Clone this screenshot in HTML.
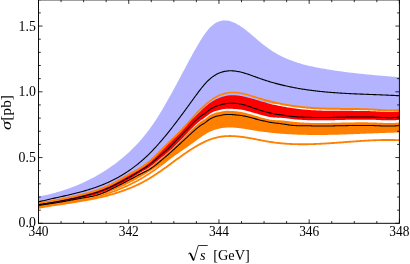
<!DOCTYPE html>
<html><head><meta charset="utf-8"><title>plot</title>
<style>
html,body{margin:0;padding:0;background:#fff;}
body{width:410px;height:264px;overflow:hidden;font-family:"Liberation Serif",serif;}
svg{display:block;will-change:transform;}
.t{font-family:"Liberation Serif",serif;font-size:14.9px;fill:#000;}
.l{font-family:"Liberation Serif",serif;font-size:14.5px;fill:#000;}
</style></head><body>
<svg width="410" height="264" viewBox="0 0 410 264">
<rect width="410" height="264" fill="#fff"/>
<defs><clipPath id="c"><rect x="38.5" y="-0.1" width="360.9" height="223.4"/></clipPath></defs>
<g clip-path="url(#c)">
<path d="M38.5,196.60 L39.5,196.40 L40.5,196.20 L41.5,195.99 L42.5,195.78 L43.5,195.57 L44.5,195.35 L45.5,195.13 L46.5,194.90 L47.5,194.67 L48.5,194.43 L49.5,194.19 L50.5,193.94 L51.5,193.69 L52.5,193.43 L53.5,193.17 L54.5,192.90 L55.5,192.63 L56.5,192.35 L57.5,192.07 L58.5,191.78 L59.5,191.48 L60.5,191.18 L61.5,190.88 L62.5,190.56 L63.5,190.24 L64.5,189.92 L65.5,189.59 L66.5,189.25 L67.5,188.91 L68.5,188.56 L69.5,188.20 L70.5,187.84 L71.5,187.47 L72.5,187.09 L73.5,186.71 L74.5,186.32 L75.5,185.92 L76.5,185.52 L77.5,185.11 L78.5,184.69 L79.5,184.26 L80.5,183.83 L81.5,183.39 L82.5,182.94 L83.5,182.49 L84.5,182.02 L85.5,181.55 L86.5,181.07 L87.5,180.59 L88.5,180.09 L89.5,179.59 L90.5,179.08 L91.5,178.56 L92.5,178.03 L93.5,177.50 L94.5,176.95 L95.5,176.40 L96.5,175.84 L97.5,175.27 L98.5,174.69 L99.5,174.10 L100.5,173.50 L101.5,172.90 L102.5,172.28 L103.5,171.66 L104.5,171.02 L105.5,170.38 L106.5,169.73 L107.5,169.07 L108.5,168.39 L109.5,167.71 L110.5,167.02 L111.5,166.32 L112.5,165.61 L113.5,164.89 L114.5,164.16 L115.5,163.42 L116.5,162.67 L117.5,161.90 L118.5,161.13 L119.5,160.34 L120.5,159.55 L121.5,158.74 L122.5,157.91 L123.5,157.08 L124.5,156.23 L125.5,155.36 L126.5,154.48 L127.5,153.59 L128.5,152.68 L129.5,151.75 L130.5,150.81 L131.5,149.84 L132.5,148.87 L133.5,147.87 L134.5,146.86 L135.5,145.82 L136.5,144.77 L137.5,143.70 L138.5,142.61 L139.5,141.49 L140.5,140.36 L141.5,139.21 L142.5,138.03 L143.5,136.83 L144.5,135.61 L145.5,134.36 L146.5,133.09 L147.5,131.80 L148.5,130.48 L149.5,129.14 L150.5,127.77 L151.5,126.37 L152.5,124.94 L153.5,123.49 L154.5,122.01 L155.5,120.50 L156.5,118.96 L157.5,117.40 L158.5,115.82 L159.5,114.21 L160.5,112.58 L161.5,110.93 L162.5,109.25 L163.5,107.56 L164.5,105.85 L165.5,104.12 L166.5,102.37 L167.5,100.61 L168.5,98.84 L169.5,97.05 L170.5,95.24 L171.5,93.43 L172.5,91.60 L173.5,89.77 L174.5,87.92 L175.5,86.07 L176.5,84.21 L177.5,82.35 L178.5,80.48 L179.5,78.60 L180.5,76.73 L181.5,74.85 L182.5,72.97 L183.5,71.09 L184.5,69.21 L185.5,67.33 L186.5,65.46 L187.5,63.59 L188.5,61.73 L189.5,59.87 L190.5,58.02 L191.5,56.18 L192.5,54.35 L193.5,52.53 L194.5,50.74 L195.5,48.96 L196.5,47.21 L197.5,45.49 L198.5,43.79 L199.5,42.13 L200.5,40.51 L201.5,38.92 L202.5,37.37 L203.5,35.87 L204.5,34.42 L205.5,33.03 L206.5,31.70 L207.5,30.43 L208.5,29.24 L209.5,28.12 L210.5,27.09 L211.5,26.13 L212.5,25.26 L213.5,24.47 L214.5,23.75 L215.5,23.12 L216.5,22.55 L217.5,22.06 L218.5,21.63 L219.5,21.28 L220.5,20.99 L221.5,20.76 L222.5,20.60 L223.5,20.49 L224.5,20.45 L225.5,20.46 L226.5,20.53 L227.5,20.65 L228.5,20.83 L229.5,21.05 L230.5,21.32 L231.5,21.64 L232.5,22.00 L233.5,22.40 L234.5,22.84 L235.5,23.32 L236.5,23.84 L237.5,24.39 L238.5,24.97 L239.5,25.59 L240.5,26.23 L241.5,26.90 L242.5,27.60 L243.5,28.32 L244.5,29.06 L245.5,29.82 L246.5,30.60 L247.5,31.39 L248.5,32.20 L249.5,33.02 L250.5,33.85 L251.5,34.69 L252.5,35.54 L253.5,36.39 L254.5,37.25 L255.5,38.10 L256.5,38.96 L257.5,39.81 L258.5,40.66 L259.5,41.50 L260.5,42.33 L261.5,43.16 L262.5,43.97 L263.5,44.77 L264.5,45.55 L265.5,46.31 L266.5,47.06 L267.5,47.79 L268.5,48.50 L269.5,49.19 L270.5,49.87 L271.5,50.53 L272.5,51.17 L273.5,51.80 L274.5,52.41 L275.5,53.00 L276.5,53.58 L277.5,54.14 L278.5,54.69 L279.5,55.23 L280.5,55.75 L281.5,56.26 L282.5,56.75 L283.5,57.23 L284.5,57.69 L285.5,58.15 L286.5,58.59 L287.5,59.02 L288.5,59.43 L289.5,59.84 L290.5,60.23 L291.5,60.61 L292.5,60.99 L293.5,61.35 L294.5,61.70 L295.5,62.04 L296.5,62.37 L297.5,62.69 L298.5,63.00 L299.5,63.31 L300.5,63.60 L301.5,63.89 L302.5,64.17 L303.5,64.44 L304.5,64.70 L305.5,64.96 L306.5,65.21 L307.5,65.46 L308.5,65.69 L309.5,65.92 L310.5,66.15 L311.5,66.37 L312.5,66.59 L313.5,66.80 L314.5,67.00 L315.5,67.20 L316.5,67.40 L317.5,67.60 L318.5,67.79 L319.5,67.97 L320.5,68.16 L321.5,68.34 L322.5,68.52 L323.5,68.70 L324.5,68.87 L325.5,69.04 L326.5,69.21 L327.5,69.38 L328.5,69.55 L329.5,69.71 L330.5,69.87 L331.5,70.03 L332.5,70.18 L333.5,70.34 L334.5,70.49 L335.5,70.64 L336.5,70.78 L337.5,70.93 L338.5,71.07 L339.5,71.21 L340.5,71.35 L341.5,71.49 L342.5,71.62 L343.5,71.75 L344.5,71.89 L345.5,72.01 L346.5,72.14 L347.5,72.27 L348.5,72.39 L349.5,72.51 L350.5,72.64 L351.5,72.75 L352.5,72.87 L353.5,72.99 L354.5,73.10 L355.5,73.22 L356.5,73.33 L357.5,73.44 L358.5,73.55 L359.5,73.66 L360.5,73.76 L361.5,73.87 L362.5,73.97 L363.5,74.07 L364.5,74.18 L365.5,74.28 L366.5,74.38 L367.5,74.47 L368.5,74.57 L369.5,74.67 L370.5,74.76 L371.5,74.86 L372.5,74.95 L373.5,75.05 L374.5,75.14 L375.5,75.23 L376.5,75.32 L377.5,75.41 L378.5,75.50 L379.5,75.59 L380.5,75.68 L381.5,75.76 L382.5,75.85 L383.5,75.94 L384.5,76.02 L385.5,76.11 L386.5,76.19 L387.5,76.28 L388.5,76.36 L389.5,76.45 L390.5,76.53 L391.5,76.62 L392.5,76.70 L393.5,76.78 L394.5,76.87 L395.5,76.95 L396.5,77.03 L397.5,77.12 L399.4,77.28 L399.4,110.10 L397.5,110.29 L396.5,110.36 L395.5,110.42 L394.5,110.46 L393.5,110.49 L392.5,110.51 L391.5,110.52 L390.5,110.51 L389.5,110.50 L388.5,110.47 L387.5,110.44 L386.5,110.40 L385.5,110.36 L384.5,110.31 L383.5,110.25 L382.5,110.19 L381.5,110.13 L380.5,110.06 L379.5,110.00 L378.5,109.93 L377.5,109.86 L376.5,109.80 L375.5,109.74 L374.5,109.68 L373.5,109.62 L372.5,109.57 L371.5,109.51 L370.5,109.47 L369.5,109.42 L368.5,109.38 L367.5,109.34 L366.5,109.30 L365.5,109.27 L364.5,109.24 L363.5,109.21 L362.5,109.18 L361.5,109.15 L360.5,109.13 L359.5,109.11 L358.5,109.09 L357.5,109.07 L356.5,109.05 L355.5,109.04 L354.5,109.02 L353.5,109.01 L352.5,109.00 L351.5,108.98 L350.5,108.97 L349.5,108.96 L348.5,108.95 L347.5,108.94 L346.5,108.93 L345.5,108.92 L344.5,108.92 L343.5,108.91 L342.5,108.90 L341.5,108.89 L340.5,108.88 L339.5,108.87 L338.5,108.86 L337.5,108.85 L336.5,108.83 L335.5,108.82 L334.5,108.81 L333.5,108.79 L332.5,108.78 L331.5,108.76 L330.5,108.74 L329.5,108.72 L328.5,108.70 L327.5,108.67 L326.5,108.64 L325.5,108.62 L324.5,108.59 L323.5,108.55 L322.5,108.52 L321.5,108.48 L320.5,108.44 L319.5,108.40 L318.5,108.35 L317.5,108.30 L316.5,108.25 L315.5,108.20 L314.5,108.14 L313.5,108.08 L312.5,108.01 L311.5,107.94 L310.5,107.87 L309.5,107.80 L308.5,107.72 L307.5,107.63 L306.5,107.55 L305.5,107.45 L304.5,107.36 L303.5,107.26 L302.5,107.15 L301.5,107.05 L300.5,106.94 L299.5,106.82 L298.5,106.70 L297.5,106.57 L296.5,106.45 L295.5,106.31 L294.5,106.18 L293.5,106.03 L292.5,105.89 L291.5,105.74 L290.5,105.58 L289.5,105.42 L288.5,105.26 L287.5,105.09 L286.5,104.92 L285.5,104.74 L284.5,104.56 L283.5,104.38 L282.5,104.18 L281.5,104.08 L280.5,104.08 L279.5,104.06 L278.5,104.05 L277.5,104.03 L276.5,104.00 L275.5,103.98 L274.5,103.94 L273.5,103.91 L272.5,103.87 L271.5,103.82 L270.5,103.77 L269.5,103.71 L268.5,103.64 L267.5,103.58 L266.5,103.50 L265.5,103.42 L264.5,103.34 L263.5,103.25 L262.5,103.16 L261.5,102.96 L260.5,102.66 L259.5,102.36 L258.5,102.05 L257.5,101.75 L256.5,101.45 L255.5,101.15 L254.5,100.85 L253.5,100.55 L252.5,100.26 L251.5,99.97 L250.5,99.69 L249.5,99.41 L248.5,99.14 L247.5,98.89 L246.5,98.65 L245.5,98.42 L244.5,98.20 L243.5,97.99 L242.5,97.79 L241.5,97.61 L240.5,97.43 L239.5,97.27 L238.5,97.12 L237.5,97.00 L236.5,96.89 L235.5,96.81 L234.5,96.75 L233.5,96.71 L232.5,96.71 L231.5,96.72 L230.5,96.77 L229.5,96.85 L228.5,96.96 L227.5,97.10 L226.5,97.27 L225.5,97.48 L224.5,97.71 L223.5,97.97 L222.5,98.26 L221.5,98.57 L220.5,98.92 L219.5,99.29 L218.5,99.70 L217.5,100.14 L216.5,100.60 L215.5,101.11 L214.5,101.64 L213.5,102.21 L212.5,102.82 L211.5,103.47 L210.5,104.15 L209.5,104.87 L208.5,105.62 L207.5,106.41 L206.5,107.24 L205.5,108.09 L204.5,108.97 L203.5,109.87 L202.5,110.80 L201.5,111.75 L200.5,112.72 L199.5,113.70 L198.5,114.68 L197.5,115.68 L196.5,116.68 L195.5,117.68 L194.5,118.68 L193.5,119.60 L192.5,120.48 L191.5,121.35 L190.5,122.24 L189.5,123.18 L188.5,124.21 L187.5,125.33 L186.5,126.47 L185.5,127.61 L184.5,128.73 L183.5,129.85 L182.5,130.94 L181.5,132.02 L180.5,133.08 L179.5,134.11 L178.5,135.11 L177.5,136.09 L176.5,137.06 L175.5,138.02 L174.5,138.96 L173.5,139.90 L172.5,140.85 L171.5,141.80 L170.5,142.75 L169.5,143.72 L168.5,144.70 L167.5,145.70 L166.5,146.71 L165.5,147.72 L164.5,148.74 L163.5,149.76 L162.5,150.78 L161.5,151.81 L160.5,152.83 L159.5,153.84 L158.5,154.85 L157.5,155.85 L156.5,156.84 L155.5,157.82 L154.5,158.78 L153.5,159.72 L152.5,160.64 L151.5,161.55 L150.5,162.42 L149.5,163.28 L148.5,164.10 L147.5,164.90 L146.5,165.68 L145.5,166.43 L144.5,167.16 L143.5,167.87 L142.5,168.55 L141.5,169.22 L140.5,169.87 L139.5,170.49 L138.5,171.11 L137.5,171.70 L136.5,172.28 L135.5,172.84 L134.5,173.39 L133.5,173.93 L132.5,174.46 L131.5,175.00 L130.5,175.53 L129.5,176.08 L128.5,176.63 L127.5,177.20 L126.5,177.77 L125.5,178.34 L124.5,178.92 L123.5,179.51 L122.5,180.09 L121.5,180.67 L120.5,181.25 L119.5,181.83 L118.5,182.40 L117.5,182.96 L116.5,183.52 L115.5,184.06 L114.5,184.59 L113.5,185.11 L112.5,185.61 L111.5,186.11 L110.5,186.59 L109.5,187.06 L108.5,187.52 L107.5,187.96 L106.5,188.40 L105.5,188.82 L104.5,189.24 L103.5,189.64 L102.5,190.04 L101.5,190.43 L100.5,190.80 L99.5,191.17 L98.5,191.53 L97.5,191.88 L96.5,192.22 L95.5,192.56 L94.5,192.88 L93.5,193.20 L92.5,193.51 L91.5,193.82 L90.5,194.12 L89.5,194.41 L88.5,194.70 L87.5,194.98 L86.5,195.26 L85.5,195.53 L84.5,195.80 L83.5,196.06 L82.5,196.31 L81.5,196.57 L80.5,196.82 L79.5,197.07 L78.5,197.31 L77.5,197.54 L76.5,197.77 L75.5,197.99 L74.5,198.22 L73.5,198.43 L72.5,198.65 L71.5,198.87 L70.5,199.08 L69.5,199.29 L68.5,199.49 L67.5,199.70 L66.5,199.90 L65.5,200.10 L64.5,200.30 L63.5,200.49 L62.5,200.68 L61.5,200.87 L60.5,201.06 L59.5,201.24 L58.5,201.43 L57.5,201.61 L56.5,201.78 L55.5,201.96 L54.5,202.13 L53.5,202.30 L52.5,202.47 L51.5,202.63 L50.5,202.80 L49.5,202.96 L48.5,203.12 L47.5,203.28 L46.5,203.43 L45.5,203.59 L44.5,203.74 L43.5,203.89 L42.5,204.03 L41.5,204.18 L40.5,204.32 L39.5,204.46 L38.5,204.60 Z" fill="#b3b3ff"/>
<path d="M38.5,201.91 L39.5,201.65 L40.5,201.40 L41.5,201.15 L42.5,200.90 L43.5,200.66 L44.5,200.42 L45.5,200.18 L46.5,199.94 L47.5,199.71 L48.5,199.48 L49.5,199.25 L50.5,199.02 L51.5,198.79 L52.5,198.57 L53.5,198.34 L54.5,198.12 L55.5,197.90 L56.5,197.67 L57.5,197.45 L58.5,197.23 L59.5,197.01 L60.5,196.79 L61.5,196.56 L62.5,196.34 L63.5,196.12 L64.5,195.89 L65.5,195.66 L66.5,195.44 L67.5,195.21 L68.5,194.98 L69.5,194.74 L70.5,194.51 L71.5,194.27 L72.5,194.03 L73.5,193.79 L74.5,193.54 L75.5,193.29 L76.5,193.04 L77.5,192.79 L78.5,192.53 L79.5,192.27 L80.5,192.00 L81.5,191.73 L82.5,191.46 L83.5,191.18 L84.5,190.89 L85.5,190.61 L86.5,190.31 L87.5,190.01 L88.5,189.71 L89.5,189.40 L90.5,189.08 L91.5,188.76 L92.5,188.43 L93.5,188.10 L94.5,187.76 L95.5,187.41 L96.5,187.06 L97.5,186.70 L98.5,186.33 L99.5,185.95 L100.5,185.57 L101.5,185.18 L102.5,184.78 L103.5,184.37 L104.5,183.95 L105.5,183.53 L106.5,183.10 L107.5,182.65 L108.5,182.20 L109.5,181.74 L110.5,181.27 L111.5,180.79 L112.5,180.30 L113.5,179.80 L114.5,179.29 L115.5,178.77 L116.5,178.24 L117.5,177.70 L118.5,177.15 L119.5,176.59 L120.5,176.01 L121.5,175.42 L122.5,174.83 L123.5,174.22 L124.5,173.59 L125.5,172.96 L126.5,172.31 L127.5,171.65 L128.5,170.98 L129.5,170.30 L130.5,169.60 L131.5,168.89 L132.5,168.16 L133.5,167.42 L134.5,166.67 L135.5,165.90 L136.5,165.12 L137.5,164.33 L138.5,163.52 L139.5,162.69 L140.5,161.85 L141.5,161.00 L142.5,160.13 L143.5,159.24 L144.5,158.34 L145.5,157.42 L146.5,156.49 L147.5,155.54 L148.5,154.57 L149.5,153.59 L150.5,152.59 L151.5,151.57 L152.5,150.54 L153.5,149.49 L154.5,148.42 L155.5,147.34 L156.5,146.25 L157.5,145.14 L158.5,144.01 L159.5,142.88 L160.5,141.73 L161.5,140.56 L162.5,139.39 L163.5,138.20 L164.5,137.00 L165.5,135.79 L166.5,134.57 L167.5,133.33 L168.5,132.09 L169.5,130.84 L170.5,129.57 L171.5,128.30 L172.5,127.02 L173.5,125.73 L174.5,124.44 L175.5,123.13 L176.5,121.82 L177.5,120.50 L178.5,119.18 L179.5,117.84 L180.5,116.51 L181.5,115.17 L182.5,113.82 L183.5,112.47 L184.5,111.11 L185.5,109.75 L186.5,108.39 L187.5,107.03 L188.5,105.66 L189.5,104.29 L190.5,102.91 L191.5,101.54 L192.5,100.17 L193.5,98.79 L194.5,97.41 L195.5,96.04 L196.5,94.66 L197.5,93.30 L198.5,91.95 L199.5,90.61 L200.5,89.30 L201.5,88.02 L202.5,86.78 L203.5,85.57 L204.5,84.40 L205.5,83.29 L206.5,82.22 L207.5,81.21 L208.5,80.25 L209.5,79.34 L210.5,78.48 L211.5,77.67 L212.5,76.91 L213.5,76.20 L214.5,75.53 L215.5,74.92 L216.5,74.35 L217.5,73.84 L218.5,73.36 L219.5,72.93 L220.5,72.55 L221.5,72.21 L222.5,71.90 L223.5,71.64 L224.5,71.41 L225.5,71.23 L226.5,71.08 L227.5,70.96 L228.5,70.87 L229.5,70.82 L230.5,70.80 L231.5,70.81 L232.5,70.85 L233.5,70.92 L234.5,71.01 L235.5,71.13 L236.5,71.27 L237.5,71.43 L238.5,71.62 L239.5,71.82 L240.5,72.05 L241.5,72.29 L242.5,72.55 L243.5,72.83 L244.5,73.11 L245.5,73.42 L246.5,73.73 L247.5,74.06 L248.5,74.39 L249.5,74.73 L250.5,75.08 L251.5,75.44 L252.5,75.80 L253.5,76.16 L254.5,76.52 L255.5,76.89 L256.5,77.26 L257.5,77.62 L258.5,77.98 L259.5,78.34 L260.5,78.69 L261.5,79.04 L262.5,79.38 L263.5,79.72 L264.5,80.05 L265.5,80.38 L266.5,80.70 L267.5,81.01 L268.5,81.32 L269.5,81.63 L270.5,81.93 L271.5,82.22 L272.5,82.51 L273.5,82.79 L274.5,83.07 L275.5,83.35 L276.5,83.62 L277.5,83.88 L278.5,84.14 L279.5,84.40 L280.5,84.65 L281.5,84.89 L282.5,85.14 L283.5,85.37 L284.5,85.61 L285.5,85.83 L286.5,86.06 L287.5,86.28 L288.5,86.49 L289.5,86.70 L290.5,86.91 L291.5,87.11 L292.5,87.31 L293.5,87.51 L294.5,87.70 L295.5,87.89 L296.5,88.07 L297.5,88.25 L298.5,88.42 L299.5,88.59 L300.5,88.76 L301.5,88.93 L302.5,89.09 L303.5,89.25 L304.5,89.40 L305.5,89.55 L306.5,89.70 L307.5,89.84 L308.5,89.98 L309.5,90.12 L310.5,90.26 L311.5,90.39 L312.5,90.52 L313.5,90.64 L314.5,90.76 L315.5,90.88 L316.5,91.00 L317.5,91.11 L318.5,91.22 L319.5,91.33 L320.5,91.44 L321.5,91.54 L322.5,91.64 L323.5,91.74 L324.5,91.84 L325.5,91.93 L326.5,92.02 L327.5,92.11 L328.5,92.20 L329.5,92.28 L330.5,92.36 L331.5,92.44 L332.5,92.52 L333.5,92.60 L334.5,92.67 L335.5,92.74 L336.5,92.81 L337.5,92.88 L338.5,92.95 L339.5,93.02 L340.5,93.08 L341.5,93.14 L342.5,93.20 L343.5,93.26 L344.5,93.32 L345.5,93.37 L346.5,93.43 L347.5,93.48 L348.5,93.53 L349.5,93.59 L350.5,93.64 L351.5,93.68 L352.5,93.73 L353.5,93.78 L354.5,93.83 L355.5,93.87 L356.5,93.91 L357.5,93.96 L358.5,94.00 L359.5,94.04 L360.5,94.08 L361.5,94.12 L362.5,94.17 L363.5,94.20 L364.5,94.24 L365.5,94.28 L366.5,94.32 L367.5,94.36 L368.5,94.40 L369.5,94.44 L370.5,94.47 L371.5,94.51 L372.5,94.55 L373.5,94.59 L374.5,94.63 L375.5,94.66 L376.5,94.70 L377.5,94.74 L378.5,94.78 L379.5,94.82 L380.5,94.86 L381.5,94.90 L382.5,94.94 L383.5,94.98 L384.5,95.02 L385.5,95.06 L386.5,95.10 L387.5,95.15 L388.5,95.19 L389.5,95.24 L390.5,95.28 L391.5,95.33 L392.5,95.38 L393.5,95.42 L394.5,95.47 L395.5,95.53 L396.5,95.58 L397.5,95.63 L399.4,95.74" fill="none" stroke="#000" stroke-width="1.1"/>
<path d="M38.5,205.20 L39.5,205.07 L40.5,204.93 L41.5,204.79 L42.5,204.65 L43.5,204.51 L44.5,204.36 L45.5,204.22 L46.5,204.07 L47.5,203.93 L48.5,203.78 L49.5,203.63 L50.5,203.47 L51.5,203.32 L52.5,203.16 L53.5,203.00 L54.5,202.84 L55.5,202.68 L56.5,202.52 L57.5,202.35 L58.5,202.18 L59.5,202.01 L60.5,201.84 L61.5,201.66 L62.5,201.49 L63.5,201.31 L64.5,201.13 L65.5,200.94 L66.5,200.76 L67.5,200.58 L68.5,200.39 L69.5,200.20 L70.5,200.01 L71.5,199.82 L72.5,199.62 L73.5,199.43 L74.5,199.23 L75.5,199.04 L76.5,198.84 L77.5,198.64 L78.5,198.44 L79.5,198.25 L80.5,198.06 L81.5,197.87 L82.5,197.69 L83.5,197.49 L84.5,197.30 L85.5,197.10 L86.5,196.90 L87.5,196.69 L88.5,196.48 L89.5,196.25 L90.5,196.02 L91.5,195.79 L92.5,195.54 L93.5,195.28 L94.5,195.01 L95.5,194.73 L96.5,194.43 L97.5,194.12 L98.5,193.80 L99.5,193.46 L100.5,193.11 L101.5,192.74 L102.5,192.36 L103.5,191.96 L104.5,191.55 L105.5,191.14 L106.5,190.71 L107.5,190.27 L108.5,189.82 L109.5,189.36 L110.5,188.89 L111.5,188.42 L112.5,187.94 L113.5,187.46 L114.5,186.97 L115.5,186.47 L116.5,185.98 L117.5,185.48 L118.5,184.98 L119.5,184.49 L120.5,183.98 L121.5,183.48 L122.5,182.97 L123.5,182.47 L124.5,181.95 L125.5,181.44 L126.5,180.91 L127.5,180.37 L128.5,179.82 L129.5,179.26 L130.5,178.69 L131.5,178.13 L132.5,177.58 L133.5,177.04 L134.5,176.49 L135.5,175.94 L136.5,175.37 L137.5,174.79 L138.5,174.18 L139.5,173.56 L140.5,172.94 L141.5,172.34 L142.5,171.77 L143.5,171.22 L144.5,170.68 L145.5,170.15 L146.5,169.59 L147.5,169.01 L148.5,168.39 L149.5,167.72 L150.5,167.00 L151.5,166.26 L152.5,165.49 L153.5,164.71 L154.5,163.91 L155.5,163.10 L156.5,162.28 L157.5,161.44 L158.5,160.61 L159.5,159.76 L160.5,158.91 L161.5,158.08 L162.5,157.26 L163.5,156.44 L164.5,155.62 L165.5,154.80 L166.5,153.97 L167.5,153.13 L168.5,152.27 L169.5,151.39 L170.5,150.48 L171.5,149.55 L172.5,148.61 L173.5,147.65 L174.5,146.68 L175.5,145.70 L176.5,144.72 L177.5,143.73 L178.5,142.73 L179.5,141.74 L180.5,140.74 L181.5,139.73 L182.5,138.70 L183.5,137.66 L184.5,136.61 L185.5,135.55 L186.5,134.50 L187.5,133.46 L188.5,132.43 L189.5,131.41 L190.5,130.42 L191.5,129.44 L192.5,128.49 L193.5,127.55 L194.5,126.64 L195.5,125.75 L196.5,124.88 L197.5,124.03 L198.5,123.20 L199.5,122.40 L200.5,121.63 L201.5,120.98 L202.5,120.40 L203.5,119.82 L204.5,119.19 L205.5,118.44 L206.5,117.68 L207.5,116.92 L208.5,116.19 L209.5,115.51 L210.5,114.90 L211.5,114.37 L212.5,113.91 L213.5,113.51 L214.5,113.15 L215.5,112.82 L216.5,112.55 L217.5,112.34 L218.5,112.16 L219.5,111.97 L220.5,111.76 L221.5,111.54 L222.5,111.34 L223.5,111.17 L224.5,111.02 L225.5,110.93 L226.5,110.87 L227.5,110.86 L228.5,110.87 L229.5,110.89 L230.5,110.92 L231.5,110.97 L232.5,111.04 L233.5,111.12 L234.5,111.20 L235.5,111.28 L236.5,111.36 L237.5,111.46 L238.5,111.57 L239.5,111.70 L240.5,111.84 L241.5,112.01 L242.5,112.19 L243.5,112.40 L244.5,112.63 L245.5,112.87 L246.5,113.14 L247.5,113.41 L248.5,113.69 L249.5,113.98 L250.5,114.27 L251.5,114.57 L252.5,114.86 L253.5,115.15 L254.5,115.44 L255.5,115.73 L256.5,116.01 L257.5,116.30 L258.5,116.59 L259.5,116.88 L260.5,117.17 L261.5,117.45 L262.5,117.72 L263.5,117.99 L264.5,118.25 L265.5,118.51 L266.5,118.75 L267.5,118.99 L268.5,119.21 L269.5,119.43 L270.5,119.63 L271.5,119.79 L272.5,119.92 L273.5,120.01 L274.5,120.08 L275.5,120.13 L276.5,120.18 L277.5,120.21 L278.5,120.25 L279.5,120.30 L280.5,120.36 L281.5,120.43 L282.5,120.51 L283.5,120.59 L284.5,120.69 L285.5,120.81 L286.5,120.93 L287.5,121.07 L288.5,121.20 L289.5,121.34 L290.5,121.47 L291.5,121.60 L292.5,121.71 L293.5,121.82 L294.5,121.93 L295.5,122.03 L296.5,122.12 L297.5,122.20 L298.5,122.28 L299.5,122.36 L300.5,122.42 L301.5,122.49 L302.5,122.55 L303.5,122.60 L304.5,122.65 L305.5,122.70 L306.5,122.74 L307.5,122.78 L308.5,122.82 L309.5,122.85 L310.5,122.88 L311.5,122.91 L312.5,122.93 L313.5,122.96 L314.5,122.97 L315.5,122.99 L316.5,123.00 L317.5,123.00 L318.5,123.01 L319.5,123.01 L320.5,123.01 L321.5,123.01 L322.5,123.00 L323.5,122.99 L324.5,122.98 L325.5,122.97 L326.5,122.96 L327.5,122.94 L328.5,122.92 L329.5,122.91 L330.5,122.89 L331.5,122.87 L332.5,122.84 L333.5,122.82 L334.5,122.80 L335.5,122.77 L336.5,122.75 L337.5,122.72 L338.5,122.70 L339.5,122.67 L340.5,122.65 L341.5,122.62 L342.5,122.60 L343.5,122.58 L344.5,122.55 L345.5,122.53 L346.5,122.51 L347.5,122.49 L348.5,122.47 L349.5,122.45 L350.5,122.44 L351.5,122.42 L352.5,122.41 L353.5,122.39 L354.5,122.38 L355.5,122.37 L356.5,122.36 L357.5,122.35 L358.5,122.34 L359.5,122.34 L360.5,122.33 L361.5,122.33 L362.5,122.33 L363.5,122.33 L364.5,122.34 L365.5,122.34 L366.5,122.35 L367.5,122.37 L368.5,122.38 L369.5,122.40 L370.5,122.42 L371.5,122.44 L372.5,122.47 L373.5,122.50 L374.5,122.53 L375.5,122.57 L376.5,122.61 L377.5,122.65 L378.5,122.70 L379.5,122.74 L380.5,122.79 L381.5,122.83 L382.5,122.87 L383.5,122.91 L384.5,122.95 L385.5,122.98 L386.5,123.01 L387.5,123.03 L388.5,123.04 L389.5,123.05 L390.5,123.04 L391.5,123.03 L392.5,123.01 L393.5,122.98 L394.5,122.93 L395.5,122.87 L396.5,122.80 L397.5,122.71 L399.4,122.50 L399.4,131.62 L397.5,131.67 L396.5,131.69 L395.5,131.72 L394.5,131.75 L393.5,131.78 L392.5,131.81 L391.5,131.84 L390.5,131.87 L389.5,131.90 L388.5,131.93 L387.5,131.96 L386.5,132.00 L385.5,132.03 L384.5,132.07 L383.5,132.10 L382.5,132.14 L381.5,132.18 L380.5,132.22 L379.5,132.25 L378.5,132.29 L377.5,132.33 L376.5,132.37 L375.5,132.41 L374.5,132.45 L373.5,132.49 L372.5,132.53 L371.5,132.57 L370.5,132.61 L369.5,132.65 L368.5,132.69 L367.5,132.73 L366.5,132.77 L365.5,132.81 L364.5,132.85 L363.5,132.89 L362.5,132.93 L361.5,132.97 L360.5,133.01 L359.5,133.05 L358.5,133.09 L357.5,133.13 L356.5,133.17 L355.5,133.21 L354.5,133.25 L353.5,133.29 L352.5,133.32 L351.5,133.36 L350.5,133.40 L349.5,133.43 L348.5,133.47 L347.5,133.50 L346.5,133.54 L345.5,133.57 L344.5,133.60 L343.5,133.64 L342.5,133.67 L341.5,133.70 L340.5,133.73 L339.5,133.76 L338.5,133.78 L337.5,133.81 L336.5,133.84 L335.5,133.86 L334.5,133.89 L333.5,133.91 L332.5,133.93 L331.5,133.95 L330.5,133.97 L329.5,133.99 L328.5,134.01 L327.5,134.03 L326.5,134.04 L325.5,134.05 L324.5,134.07 L323.5,134.08 L322.5,134.09 L321.5,134.10 L320.5,134.10 L319.5,134.11 L318.5,134.11 L317.5,134.11 L316.5,134.11 L315.5,134.11 L314.5,134.11 L313.5,134.11 L312.5,134.10 L311.5,134.09 L310.5,134.08 L309.5,134.07 L308.5,134.06 L307.5,134.04 L306.5,134.02 L305.5,134.00 L304.5,133.98 L303.5,133.96 L302.5,133.94 L301.5,133.91 L300.5,133.88 L299.5,133.85 L298.5,133.81 L297.5,133.78 L296.5,133.74 L295.5,133.70 L294.5,133.66 L293.5,133.61 L292.5,133.56 L291.5,133.51 L290.5,133.46 L289.5,133.41 L288.5,133.35 L287.5,133.29 L286.5,133.23 L285.5,133.16 L284.5,133.10 L283.5,133.02 L282.5,132.95 L281.5,132.88 L280.5,132.80 L279.5,132.72 L278.5,132.63 L277.5,132.55 L276.5,132.46 L275.5,132.36 L274.5,132.27 L273.5,132.17 L272.5,132.07 L271.5,131.96 L270.5,131.86 L269.5,131.75 L268.5,131.63 L267.5,131.51 L266.5,131.39 L265.5,131.27 L264.5,131.14 L263.5,131.01 L262.5,130.88 L261.5,130.74 L260.5,130.60 L259.5,130.46 L258.5,130.31 L257.5,130.16 L256.5,130.01 L255.5,129.85 L254.5,129.69 L253.5,129.52 L252.5,129.36 L251.5,129.19 L250.5,129.02 L249.5,128.85 L248.5,128.68 L247.5,128.51 L246.5,128.35 L245.5,128.19 L244.5,128.03 L243.5,127.88 L242.5,127.73 L241.5,127.59 L240.5,127.45 L239.5,127.32 L238.5,127.21 L237.5,127.10 L236.5,127.00 L235.5,126.91 L234.5,126.83 L233.5,126.77 L232.5,126.72 L231.5,126.68 L230.5,126.66 L229.5,126.65 L228.5,126.67 L227.5,126.69 L226.5,126.74 L225.5,126.80 L224.5,126.89 L223.5,126.99 L222.5,127.12 L221.5,127.27 L220.5,127.44 L219.5,127.63 L218.5,127.85 L217.5,128.09 L216.5,128.36 L215.5,128.66 L214.5,128.98 L213.5,129.33 L212.5,129.71 L211.5,130.12 L210.5,130.56 L209.5,131.03 L208.5,131.54 L207.5,132.07 L206.5,132.63 L205.5,133.21 L204.5,133.82 L203.5,134.44 L202.5,135.09 L201.5,135.75 L200.5,136.43 L199.5,137.13 L198.5,137.83 L197.5,138.54 L196.5,139.27 L195.5,139.99 L194.5,140.72 L193.5,141.46 L192.5,142.19 L191.5,142.92 L190.5,143.65 L189.5,144.37 L188.5,145.08 L187.5,145.79 L186.5,146.49 L185.5,147.19 L184.5,147.89 L183.5,148.58 L182.5,149.28 L181.5,149.97 L180.5,150.67 L179.5,151.36 L178.5,152.06 L177.5,152.76 L176.5,153.47 L175.5,154.18 L174.5,154.90 L173.5,155.62 L172.5,156.35 L171.5,157.09 L170.5,157.84 L169.5,158.60 L168.5,159.38 L167.5,160.15 L166.5,160.93 L165.5,161.64 L164.5,162.29 L163.5,162.90 L162.5,163.49 L161.5,164.09 L160.5,164.70 L159.5,165.34 L158.5,165.98 L157.5,166.60 L156.5,167.22 L155.5,167.83 L154.5,168.44 L153.5,169.05 L152.5,169.66 L151.5,170.28 L150.5,170.91 L149.5,171.55 L148.5,172.18 L147.5,172.81 L146.5,173.43 L145.5,174.04 L144.5,174.64 L143.5,175.23 L142.5,175.82 L141.5,176.40 L140.5,176.97 L139.5,177.54 L138.5,178.11 L137.5,178.68 L136.5,179.25 L135.5,179.82 L134.5,180.38 L133.5,180.93 L132.5,181.48 L131.5,182.02 L130.5,182.55 L129.5,183.06 L128.5,183.57 L127.5,184.07 L126.5,184.56 L125.5,185.04 L124.5,185.52 L123.5,185.99 L122.5,186.45 L121.5,186.91 L120.5,187.36 L119.5,187.80 L118.5,188.23 L117.5,188.66 L116.5,189.09 L115.5,189.50 L114.5,189.91 L113.5,190.32 L112.5,190.73 L111.5,191.13 L110.5,191.53 L109.5,191.92 L108.5,192.31 L107.5,192.69 L106.5,193.06 L105.5,193.42 L104.5,193.78 L103.5,194.12 L102.5,194.45 L101.5,194.77 L100.5,195.08 L99.5,195.38 L98.5,195.67 L97.5,195.96 L96.5,196.24 L95.5,196.51 L94.5,196.78 L93.5,197.05 L92.5,197.31 L91.5,197.56 L90.5,197.81 L89.5,198.06 L88.5,198.30 L87.5,198.54 L86.5,198.77 L85.5,199.00 L84.5,199.22 L83.5,199.44 L82.5,199.66 L81.5,199.87 L80.5,200.08 L79.5,200.29 L78.5,200.49 L77.5,200.69 L76.5,200.88 L75.5,201.08 L74.5,201.27 L73.5,201.45 L72.5,201.63 L71.5,201.81 L70.5,201.99 L69.5,202.17 L68.5,202.34 L67.5,202.51 L66.5,202.67 L65.5,202.84 L64.5,203.00 L63.5,203.16 L62.5,203.32 L61.5,203.47 L60.5,203.63 L59.5,203.78 L58.5,203.93 L57.5,204.08 L56.5,204.22 L55.5,204.37 L54.5,204.51 L53.5,204.66 L52.5,204.80 L51.5,204.94 L50.5,205.08 L49.5,205.22 L48.5,205.36 L47.5,205.49 L46.5,205.63 L45.5,205.77 L44.5,205.90 L43.5,206.04 L42.5,206.17 L41.5,206.31 L40.5,206.44 L39.5,206.58 L38.5,206.71 Z" fill="#ff8000"/>
<path d="M38.5,207.01 L39.5,206.88 L40.5,206.74 L41.5,206.61 L42.5,206.47 L43.5,206.34 L44.5,206.21 L45.5,206.07 L46.5,205.94 L47.5,205.80 L48.5,205.66 L49.5,205.53 L50.5,205.39 L51.5,205.25 L52.5,205.11 L53.5,204.97 L54.5,204.83 L55.5,204.69 L56.5,204.55 L57.5,204.40 L58.5,204.26 L59.5,204.11 L60.5,203.96 L61.5,203.81 L62.5,203.66 L63.5,203.50 L64.5,203.35 L65.5,203.19 L66.5,203.03 L67.5,202.87 L68.5,202.70 L69.5,202.54 L70.5,202.37 L71.5,202.20 L72.5,202.02 L73.5,201.84 L74.5,201.66 L75.5,201.48 L76.5,201.29 L77.5,201.11 L78.5,200.91 L79.5,200.72 L80.5,200.52 L81.5,200.32 L82.5,200.11 L83.5,199.90 L84.5,199.69 L85.5,199.47 L86.5,199.25 L87.5,199.02 L88.5,198.79 L89.5,198.56 L90.5,198.32 L91.5,198.08 L92.5,197.83 L93.5,197.58 L94.5,197.33 L95.5,197.07 L96.5,196.80 L97.5,196.53 L98.5,196.25 L99.5,195.97 L100.5,195.69 L101.5,195.40 L102.5,195.10 L103.5,194.80 L104.5,194.49 L105.5,194.18 L106.5,193.86 L107.5,193.54 L108.5,193.21 L109.5,192.87 L110.5,192.53 L111.5,192.18 L112.5,191.82 L113.5,191.46 L114.5,191.10 L115.5,190.72 L116.5,190.34 L117.5,189.95 L118.5,189.56 L119.5,189.16 L120.5,188.75 L121.5,188.33 L122.5,187.91 L123.5,187.48 L124.5,187.04 L125.5,186.60 L126.5,186.15 L127.5,185.69 L128.5,185.22 L129.5,184.74 L130.5,184.26 L131.5,183.77 L132.5,183.27 L133.5,182.76 L134.5,182.25 L135.5,181.72 L136.5,181.19 L137.5,180.65 L138.5,180.10 L139.5,179.54 L140.5,178.97 L141.5,178.40 L142.5,177.81 L143.5,177.22 L144.5,176.61 L145.5,176.00 L146.5,175.38 L147.5,174.75 L148.5,174.11 L149.5,173.46 L150.5,172.80 L151.5,172.13 L152.5,171.45 L153.5,170.76 L154.5,170.06 L155.5,169.35 L156.5,168.62 L157.5,167.89 L158.5,167.15 L159.5,166.40 L160.5,165.64 L161.5,164.87 L162.5,164.09 L163.5,163.30 L164.5,162.51 L165.5,161.73 L166.5,160.94 L167.5,160.15 L168.5,159.38 L169.5,158.60 L170.5,157.84 L171.5,157.09 L172.5,156.35 L173.5,155.62 L174.5,154.90 L175.5,154.18 L176.5,153.47 L177.5,152.76 L178.5,152.06 L179.5,151.36 L180.5,150.67 L181.5,149.97 L182.5,149.28 L183.5,148.58 L184.5,147.89 L185.5,147.19 L186.5,146.49 L187.5,145.79 L188.5,145.08 L189.5,144.37 L190.5,143.65 L191.5,142.92 L192.5,142.19 L193.5,141.46 L194.5,140.72 L195.5,139.99 L196.5,139.27 L197.5,138.54 L198.5,137.83 L199.5,137.13 L200.5,136.43 L201.5,135.75 L202.5,135.09 L203.5,134.44 L204.5,133.82 L205.5,133.21 L206.5,132.63 L207.5,132.07 L208.5,131.54 L209.5,131.03 L210.5,130.56 L211.5,130.12 L212.5,129.71 L213.5,129.33 L214.5,128.98 L215.5,128.66 L216.5,128.36 L217.5,128.09 L218.5,127.85 L219.5,127.63 L220.5,127.44 L221.5,127.27 L222.5,127.12 L223.5,126.99 L224.5,126.89 L225.5,126.80 L226.5,126.74 L227.5,126.69 L228.5,126.67 L229.5,126.65 L230.5,126.66 L231.5,126.68 L232.5,126.72 L233.5,126.77 L234.5,126.83 L235.5,126.91 L236.5,127.00 L237.5,127.10 L238.5,127.21 L239.5,127.32 L240.5,127.45 L241.5,127.59 L242.5,127.73 L243.5,127.88 L244.5,128.03 L245.5,128.19 L246.5,128.35 L247.5,128.51 L248.5,128.68 L249.5,128.85 L250.5,129.02 L251.5,129.19 L252.5,129.36 L253.5,129.52 L254.5,129.69 L255.5,129.85 L256.5,130.01 L257.5,130.16 L258.5,130.31 L259.5,130.46 L260.5,130.60 L261.5,130.74 L262.5,130.88 L263.5,131.01 L264.5,131.14 L265.5,131.27 L266.5,131.39 L267.5,131.51 L268.5,131.63 L269.5,131.75 L270.5,131.86 L271.5,131.96 L272.5,132.07 L273.5,132.17 L274.5,132.27 L275.5,132.36 L276.5,132.46 L277.5,132.55 L278.5,132.63 L279.5,132.72 L280.5,132.80 L281.5,132.88 L282.5,132.95 L283.5,133.02 L284.5,133.10 L285.5,133.16 L286.5,133.23 L287.5,133.29 L288.5,133.35 L289.5,133.41 L290.5,133.46 L291.5,133.51 L292.5,133.56 L293.5,133.61 L294.5,133.66 L295.5,133.70 L296.5,133.74 L297.5,133.78 L298.5,133.81 L299.5,133.85 L300.5,133.88 L301.5,133.91 L302.5,133.94 L303.5,133.96 L304.5,133.98 L305.5,134.00 L306.5,134.02 L307.5,134.04 L308.5,134.06 L309.5,134.07 L310.5,134.08 L311.5,134.09 L312.5,134.10 L313.5,134.11 L314.5,134.11 L315.5,134.11 L316.5,134.11 L317.5,134.11 L318.5,134.11 L319.5,134.11 L320.5,134.10 L321.5,134.10 L322.5,134.09 L323.5,134.08 L324.5,134.07 L325.5,134.05 L326.5,134.04 L327.5,134.03 L328.5,134.01 L329.5,133.99 L330.5,133.97 L331.5,133.95 L332.5,133.93 L333.5,133.91 L334.5,133.89 L335.5,133.86 L336.5,133.84 L337.5,133.81 L338.5,133.78 L339.5,133.76 L340.5,133.73 L341.5,133.70 L342.5,133.67 L343.5,133.64 L344.5,133.60 L345.5,133.57 L346.5,133.54 L347.5,133.50 L348.5,133.47 L349.5,133.43 L350.5,133.40 L351.5,133.36 L352.5,133.32 L353.5,133.29 L354.5,133.25 L355.5,133.21 L356.5,133.17 L357.5,133.13 L358.5,133.09 L359.5,133.05 L360.5,133.01 L361.5,132.97 L362.5,132.93 L363.5,132.89 L364.5,132.85 L365.5,132.81 L366.5,132.77 L367.5,132.73 L368.5,132.69 L369.5,132.65 L370.5,132.61 L371.5,132.57 L372.5,132.53 L373.5,132.49 L374.5,132.45 L375.5,132.41 L376.5,132.37 L377.5,132.33 L378.5,132.29 L379.5,132.25 L380.5,132.22 L381.5,132.18 L382.5,132.14 L383.5,132.10 L384.5,132.07 L385.5,132.03 L386.5,132.00 L387.5,131.96 L388.5,131.93 L389.5,131.90 L390.5,131.87 L391.5,131.84 L392.5,131.81 L393.5,131.78 L394.5,131.75 L395.5,131.72 L396.5,131.69 L397.5,131.67 L399.4,131.62" fill="none" stroke="#ff8000" stroke-width="1.7"/>
<path d="M38.5,207.83 L39.5,207.65 L40.5,207.47 L41.5,207.29 L42.5,207.11 L43.5,206.94 L44.5,206.77 L45.5,206.60 L46.5,206.43 L47.5,206.27 L48.5,206.10 L49.5,205.94 L50.5,205.78 L51.5,205.62 L52.5,205.46 L53.5,205.31 L54.5,205.15 L55.5,205.00 L56.5,204.84 L57.5,204.69 L58.5,204.54 L59.5,204.39 L60.5,204.24 L61.5,204.08 L62.5,203.93 L63.5,203.78 L64.5,203.63 L65.5,203.48 L66.5,203.33 L67.5,203.18 L68.5,203.03 L69.5,202.87 L70.5,202.72 L71.5,202.57 L72.5,202.41 L73.5,202.26 L74.5,202.10 L75.5,201.94 L76.5,201.78 L77.5,201.62 L78.5,201.46 L79.5,201.29 L80.5,201.12 L81.5,200.96 L82.5,200.79 L83.5,200.61 L84.5,200.44 L85.5,200.26 L86.5,200.08 L87.5,199.90 L88.5,199.71 L89.5,199.52 L90.5,199.33 L91.5,199.14 L92.5,198.94 L93.5,198.74 L94.5,198.53 L95.5,198.33 L96.5,198.11 L97.5,197.90 L98.5,197.68 L99.5,197.46 L100.5,197.23 L101.5,197.00 L102.5,196.76 L103.5,196.52 L104.5,196.28 L105.5,196.03 L106.5,195.77 L107.5,195.51 L108.5,195.25 L109.5,194.98 L110.5,194.70 L111.5,194.42 L112.5,194.14 L113.5,193.85 L114.5,193.55 L115.5,193.25 L116.5,192.94 L117.5,192.62 L118.5,192.30 L119.5,191.98 L120.5,191.64 L121.5,191.30 L122.5,190.95 L123.5,190.60 L124.5,190.24 L125.5,189.87 L126.5,189.49 L127.5,189.11 L128.5,188.71 L129.5,188.31 L130.5,187.90 L131.5,187.49 L132.5,187.06 L133.5,186.63 L134.5,186.18 L135.5,185.73 L136.5,185.27 L137.5,184.80 L138.5,184.32 L139.5,183.83 L140.5,183.33 L141.5,182.82 L142.5,182.30 L143.5,181.78 L144.5,181.24 L145.5,180.68 L146.5,180.12 L147.5,179.55 L148.5,178.97 L149.5,178.37 L150.5,177.77 L151.5,177.15 L152.5,176.52 L153.5,175.89 L154.5,175.24 L155.5,174.58 L156.5,173.92 L157.5,173.24 L158.5,172.56 L159.5,171.88 L160.5,171.18 L161.5,170.48 L162.5,169.77 L163.5,169.06 L164.5,168.35 L165.5,167.63 L166.5,166.90 L167.5,166.18 L168.5,165.45 L169.5,164.72 L170.5,163.99 L171.5,163.25 L172.5,162.52 L173.5,161.79 L174.5,161.05 L175.5,160.32 L176.5,159.59 L177.5,158.86 L178.5,158.14 L179.5,157.41 L180.5,156.69 L181.5,155.98 L182.5,155.27 L183.5,154.56 L184.5,153.86 L185.5,153.17 L186.5,152.49 L187.5,151.81 L188.5,151.13 L189.5,150.47 L190.5,149.82 L191.5,149.17 L192.5,148.54 L193.5,147.91 L194.5,147.30 L195.5,146.69 L196.5,146.10 L197.5,145.52 L198.5,144.96 L199.5,144.40 L200.5,143.86 L201.5,143.34 L202.5,142.83 L203.5,142.34 L204.5,141.86 L205.5,141.39 L206.5,140.95 L207.5,140.52 L208.5,140.11 L209.5,139.72 L210.5,139.35 L211.5,139.00 L212.5,138.66 L213.5,138.35 L214.5,138.06 L215.5,137.79 L216.5,137.54 L217.5,137.31 L218.5,137.11 L219.5,136.92 L220.5,136.75 L221.5,136.60 L222.5,136.47 L223.5,136.36 L224.5,136.27 L225.5,136.19 L226.5,136.13 L227.5,136.08 L228.5,136.05 L229.5,136.04 L230.5,136.04 L231.5,136.05 L232.5,136.08 L233.5,136.12 L234.5,136.17 L235.5,136.23 L236.5,136.31 L237.5,136.39 L238.5,136.49 L239.5,136.60 L240.5,136.71 L241.5,136.84 L242.5,136.97 L243.5,137.11 L244.5,137.26 L245.5,137.41 L246.5,137.57 L247.5,137.74 L248.5,137.91 L249.5,138.08 L250.5,138.27 L251.5,138.45 L252.5,138.64 L253.5,138.83 L254.5,139.02 L255.5,139.21 L256.5,139.41 L257.5,139.61 L258.5,139.80 L259.5,140.00 L260.5,140.19 L261.5,140.39 L262.5,140.58 L263.5,140.77 L264.5,140.95 L265.5,141.14 L266.5,141.32 L267.5,141.49 L268.5,141.66 L269.5,141.82 L270.5,141.98 L271.5,142.13 L272.5,142.28 L273.5,142.42 L274.5,142.55 L275.5,142.68 L276.5,142.81 L277.5,142.92 L278.5,143.03 L279.5,143.14 L280.5,143.24 L281.5,143.34 L282.5,143.43 L283.5,143.51 L284.5,143.59 L285.5,143.67 L286.5,143.73 L287.5,143.80 L288.5,143.86 L289.5,143.92 L290.5,143.97 L291.5,144.01 L292.5,144.05 L293.5,144.09 L294.5,144.13 L295.5,144.15 L296.5,144.18 L297.5,144.20 L298.5,144.22 L299.5,144.23 L300.5,144.24 L301.5,144.25 L302.5,144.25 L303.5,144.25 L304.5,144.24 L305.5,144.23 L306.5,144.22 L307.5,144.21 L308.5,144.19 L309.5,144.17 L310.5,144.15 L311.5,144.12 L312.5,144.09 L313.5,144.06 L314.5,144.02 L315.5,143.99 L316.5,143.95 L317.5,143.90 L318.5,143.86 L319.5,143.81 L320.5,143.76 L321.5,143.71 L322.5,143.66 L323.5,143.61 L324.5,143.55 L325.5,143.49 L326.5,143.43 L327.5,143.37 L328.5,143.31 L329.5,143.24 L330.5,143.18 L331.5,143.11 L332.5,143.04 L333.5,142.97 L334.5,142.90 L335.5,142.83 L336.5,142.76 L337.5,142.69 L338.5,142.62 L339.5,142.54 L340.5,142.47 L341.5,142.39 L342.5,142.32 L343.5,142.24 L344.5,142.17 L345.5,142.09 L346.5,142.02 L347.5,141.94 L348.5,141.87 L349.5,141.79 L350.5,141.72 L351.5,141.65 L352.5,141.57 L353.5,141.50 L354.5,141.43 L355.5,141.36 L356.5,141.28 L357.5,141.21 L358.5,141.15 L359.5,141.08 L360.5,141.01 L361.5,140.95 L362.5,140.88 L363.5,140.82 L364.5,140.76 L365.5,140.70 L366.5,140.64 L367.5,140.59 L368.5,140.53 L369.5,140.48 L370.5,140.43 L371.5,140.38 L372.5,140.33 L373.5,140.29 L374.5,140.25 L375.5,140.21 L376.5,140.17 L377.5,140.14 L378.5,140.11 L379.5,140.08 L380.5,140.05 L381.5,140.03 L382.5,140.01 L383.5,139.99 L384.5,139.98 L385.5,139.97 L386.5,139.96 L387.5,139.96 L388.5,139.96 L389.5,139.96 L390.5,139.97 L391.5,139.98 L392.5,139.99 L393.5,140.01 L394.5,140.03 L395.5,140.06 L396.5,140.09 L397.5,140.12 L399.4,140.20" fill="none" stroke="#ff8000" stroke-width="1.85"/>
<path d="M38.5,203.60 L39.5,203.45 L40.5,203.29 L41.5,203.13 L42.5,202.97 L43.5,202.81 L44.5,202.65 L45.5,202.48 L46.5,202.31 L47.5,202.14 L48.5,201.97 L49.5,201.80 L50.5,201.62 L51.5,201.44 L52.5,201.27 L53.5,201.08 L54.5,200.90 L55.5,200.71 L56.5,200.53 L57.5,200.34 L58.5,200.14 L59.5,199.95 L60.5,199.75 L61.5,199.56 L62.5,199.35 L63.5,199.15 L64.5,198.95 L65.5,198.74 L66.5,198.53 L67.5,198.31 L68.5,198.10 L69.5,197.88 L70.5,197.66 L71.5,197.44 L72.5,197.21 L73.5,196.99 L74.5,196.76 L75.5,196.52 L76.5,196.29 L77.5,196.05 L78.5,195.81 L79.5,195.57 L80.5,195.32 L81.5,195.07 L82.5,194.81 L83.5,194.56 L84.5,194.30 L85.5,194.03 L86.5,193.76 L87.5,193.48 L88.5,193.20 L89.5,192.91 L90.5,192.62 L91.5,192.32 L92.5,192.01 L93.5,191.70 L94.5,191.38 L95.5,191.06 L96.5,190.72 L97.5,190.38 L98.5,190.03 L99.5,189.67 L100.5,189.30 L101.5,188.93 L102.5,188.54 L103.5,188.14 L104.5,187.74 L105.5,187.32 L106.5,186.90 L107.5,186.46 L108.5,186.02 L109.5,185.56 L110.5,185.09 L111.5,184.61 L112.5,184.11 L113.5,183.61 L114.5,183.09 L115.5,182.56 L116.5,182.02 L117.5,181.46 L118.5,180.90 L119.5,180.33 L120.5,179.75 L121.5,179.17 L122.5,178.59 L123.5,178.01 L124.5,177.42 L125.5,176.84 L126.5,176.27 L127.5,175.70 L128.5,175.13 L129.5,174.58 L130.5,174.03 L131.5,173.50 L132.5,172.96 L133.5,172.43 L134.5,171.89 L135.5,171.34 L136.5,170.78 L137.5,170.20 L138.5,169.61 L139.5,168.99 L140.5,168.37 L141.5,167.72 L142.5,167.05 L143.5,166.37 L144.5,165.66 L145.5,164.93 L146.5,164.18 L147.5,163.40 L148.5,162.60 L149.5,161.78 L150.5,160.92 L151.5,160.05 L152.5,159.14 L153.5,158.22 L154.5,157.28 L155.5,156.32 L156.5,155.34 L157.5,154.35 L158.5,153.35 L159.5,152.34 L160.5,151.33 L161.5,150.31 L162.5,149.28 L163.5,148.26 L164.5,147.24 L165.5,146.22 L166.5,145.21 L167.5,144.20 L168.5,143.20 L169.5,142.22 L170.5,141.25 L171.5,140.30 L172.5,139.35 L173.5,138.40 L174.5,137.46 L175.5,136.52 L176.5,135.56 L177.5,134.59 L178.5,133.61 L179.5,132.61 L180.5,131.58 L181.5,130.52 L182.5,129.44 L183.5,128.35 L184.5,127.23 L185.5,126.11 L186.5,124.97 L187.5,123.83 L188.5,122.71 L189.5,121.68 L190.5,120.74 L191.5,119.85 L192.5,118.98 L193.5,118.10 L194.5,117.18 L195.5,116.18 L196.5,115.18 L197.5,114.18 L198.5,113.18 L199.5,112.20 L200.5,111.22 L201.5,110.25 L202.5,109.30 L203.5,108.37 L204.5,107.47 L205.5,106.59 L206.5,105.74 L207.5,104.91 L208.5,104.12 L209.5,103.37 L210.5,102.65 L211.5,101.97 L212.5,101.32 L213.5,100.71 L214.5,100.14 L215.5,99.61 L216.5,99.10 L217.5,98.64 L218.5,98.20 L219.5,97.79 L220.5,97.42 L221.5,97.07 L222.5,96.76 L223.5,96.47 L224.5,96.21 L225.5,95.98 L226.5,95.77 L227.5,95.60 L228.5,95.46 L229.5,95.35 L230.5,95.27 L231.5,95.22 L232.5,95.21 L233.5,95.21 L234.5,95.25 L235.5,95.31 L236.5,95.39 L237.5,95.50 L238.5,95.62 L239.5,95.77 L240.5,95.93 L241.5,96.11 L242.5,96.29 L243.5,96.49 L244.5,96.70 L245.5,96.92 L246.5,97.15 L247.5,97.39 L248.5,97.64 L249.5,97.91 L250.5,98.19 L251.5,98.47 L252.5,98.76 L253.5,99.05 L254.5,99.35 L255.5,99.65 L256.5,99.95 L257.5,100.25 L258.5,100.55 L259.5,100.86 L260.5,101.16 L261.5,101.46 L262.5,101.75 L263.5,102.04 L264.5,102.33 L265.5,102.61 L266.5,102.88 L267.5,103.15 L268.5,103.41 L269.5,103.67 L270.5,103.92 L271.5,104.17 L272.5,104.41 L273.5,104.64 L274.5,104.87 L275.5,105.09 L276.5,105.31 L277.5,105.52 L278.5,105.73 L279.5,105.93 L280.5,106.12 L281.5,106.31 L282.5,106.50 L283.5,106.68 L284.5,106.86 L285.5,107.04 L286.5,107.21 L287.5,107.38 L288.5,107.54 L289.5,107.70 L290.5,107.86 L291.5,108.01 L292.5,108.16 L293.5,108.30 L294.5,108.44 L295.5,108.57 L296.5,108.70 L297.5,108.82 L298.5,108.95 L299.5,109.06 L300.5,109.17 L301.5,109.28 L302.5,109.39 L303.5,109.49 L304.5,109.58 L305.5,109.67 L306.5,109.76 L307.5,109.85 L308.5,109.92 L309.5,110.00 L310.5,110.07 L311.5,110.14 L312.5,110.20 L313.5,110.26 L314.5,110.32 L315.5,110.37 L316.5,110.42 L317.5,110.46 L318.5,110.50 L319.5,110.54 L320.5,110.58 L321.5,110.61 L322.5,110.64 L323.5,110.67 L324.5,110.70 L325.5,110.72 L326.5,110.74 L327.5,110.76 L328.5,110.78 L329.5,110.79 L330.5,110.81 L331.5,110.82 L332.5,110.83 L333.5,110.84 L334.5,110.84 L335.5,110.85 L336.5,110.85 L337.5,110.86 L338.5,110.86 L339.5,110.86 L340.5,110.86 L341.5,110.86 L342.5,110.87 L343.5,110.87 L344.5,110.87 L345.5,110.87 L346.5,110.87 L347.5,110.87 L348.5,110.87 L349.5,110.87 L350.5,110.87 L351.5,110.87 L352.5,110.87 L353.5,110.88 L354.5,110.88 L355.5,110.88 L356.5,110.89 L357.5,110.90 L358.5,110.91 L359.5,110.92 L360.5,110.93 L361.5,110.94 L362.5,110.96 L363.5,110.97 L364.5,110.99 L365.5,111.01 L366.5,111.03 L367.5,111.06 L368.5,111.09 L369.5,111.12 L370.5,111.15 L371.5,111.19 L372.5,111.23 L373.5,111.27 L374.5,111.31 L375.5,111.36 L376.5,111.41 L377.5,111.46 L378.5,111.52 L379.5,111.57 L380.5,111.63 L381.5,111.68 L382.5,111.73 L383.5,111.77 L384.5,111.82 L385.5,111.85 L386.5,111.89 L387.5,111.91 L388.5,111.93 L389.5,111.94 L390.5,111.94 L391.5,111.93 L392.5,111.91 L393.5,111.88 L394.5,111.83 L395.5,111.77 L396.5,111.70 L397.5,111.61 L399.4,111.40 L399.4,119.80 L397.5,120.01 L396.5,120.10 L395.5,120.17 L394.5,120.23 L393.5,120.28 L392.5,120.31 L391.5,120.33 L390.5,120.35 L389.5,120.35 L388.5,120.34 L387.5,120.33 L386.5,120.31 L385.5,120.28 L384.5,120.25 L383.5,120.22 L382.5,120.18 L381.5,120.14 L380.5,120.09 L379.5,120.05 L378.5,120.00 L377.5,119.96 L376.5,119.92 L375.5,119.87 L374.5,119.84 L373.5,119.80 L372.5,119.77 L371.5,119.75 L370.5,119.73 L369.5,119.71 L368.5,119.69 L367.5,119.67 L366.5,119.66 L365.5,119.65 L364.5,119.65 L363.5,119.64 L362.5,119.64 L361.5,119.64 L360.5,119.65 L359.5,119.65 L358.5,119.66 L357.5,119.67 L356.5,119.68 L355.5,119.69 L354.5,119.70 L353.5,119.71 L352.5,119.73 L351.5,119.74 L350.5,119.76 L349.5,119.78 L348.5,119.79 L347.5,119.81 L346.5,119.84 L345.5,119.86 L344.5,119.88 L343.5,119.90 L342.5,119.93 L341.5,119.95 L340.5,119.98 L339.5,120.01 L338.5,120.03 L337.5,120.06 L336.5,120.08 L335.5,120.11 L334.5,120.13 L333.5,120.16 L332.5,120.18 L331.5,120.21 L330.5,120.23 L329.5,120.25 L328.5,120.27 L327.5,120.29 L326.5,120.30 L325.5,120.32 L324.5,120.33 L323.5,120.34 L322.5,120.35 L321.5,120.36 L320.5,120.36 L319.5,120.37 L318.5,120.37 L317.5,120.36 L316.5,120.36 L315.5,120.35 L314.5,120.33 L313.5,120.32 L312.5,120.30 L311.5,120.28 L310.5,120.25 L309.5,120.22 L308.5,120.19 L307.5,120.15 L306.5,120.11 L305.5,120.07 L304.5,120.03 L303.5,119.98 L302.5,119.93 L301.5,119.87 L300.5,119.81 L299.5,119.74 L298.5,119.67 L297.5,119.59 L296.5,119.51 L295.5,119.42 L294.5,119.32 L293.5,119.22 L292.5,119.11 L291.5,118.99 L290.5,118.87 L289.5,118.74 L288.5,118.60 L287.5,118.47 L286.5,118.34 L285.5,118.22 L284.5,118.10 L283.5,118.01 L282.5,117.92 L281.5,117.85 L280.5,117.78 L279.5,117.73 L278.5,117.68 L277.5,117.65 L276.5,117.61 L275.5,117.57 L274.5,117.53 L273.5,117.46 L272.5,117.37 L271.5,117.25 L270.5,117.09 L269.5,116.90 L268.5,116.69 L267.5,116.47 L266.5,116.23 L265.5,116.00 L264.5,115.75 L263.5,115.49 L262.5,115.23 L261.5,114.96 L260.5,114.69 L259.5,114.41 L258.5,114.13 L257.5,113.84 L256.5,113.56 L255.5,113.28 L254.5,113.00 L253.5,112.72 L252.5,112.44 L251.5,112.15 L250.5,111.86 L249.5,111.58 L248.5,111.30 L247.5,111.03 L246.5,110.76 L245.5,110.51 L244.5,110.27 L243.5,110.05 L242.5,109.86 L241.5,109.68 L240.5,109.53 L239.5,109.39 L238.5,109.27 L237.5,109.17 L236.5,109.09 L235.5,109.01 L234.5,108.95 L233.5,108.88 L232.5,108.81 L231.5,108.75 L230.5,108.72 L229.5,108.70 L228.5,108.69 L227.5,108.70 L226.5,108.73 L225.5,108.81 L224.5,108.93 L223.5,109.10 L222.5,109.30 L221.5,109.53 L220.5,109.78 L219.5,110.02 L218.5,110.24 L217.5,110.46 L216.5,110.70 L215.5,111.00 L214.5,111.37 L213.5,111.77 L212.5,112.21 L211.5,112.71 L210.5,113.28 L209.5,113.94 L208.5,114.67 L207.5,115.45 L206.5,116.26 L205.5,117.08 L204.5,117.87 L203.5,118.56 L202.5,119.18 L201.5,119.81 L200.5,120.51 L199.5,121.32 L198.5,122.17 L197.5,123.05 L196.5,123.94 L195.5,124.86 L194.5,125.80 L193.5,126.76 L192.5,127.75 L191.5,128.75 L190.5,129.76 L189.5,130.80 L188.5,131.85 L187.5,132.91 L186.5,133.98 L185.5,135.05 L184.5,136.11 L183.5,137.18 L182.5,138.23 L181.5,139.27 L180.5,140.29 L179.5,141.29 L178.5,142.30 L177.5,143.30 L176.5,144.29 L175.5,145.29 L174.5,146.27 L173.5,147.24 L172.5,148.20 L171.5,149.15 L170.5,150.08 L169.5,150.99 L168.5,151.86 L167.5,152.71 L166.5,153.54 L165.5,154.36 L164.5,155.16 L163.5,155.97 L162.5,156.77 L161.5,157.59 L160.5,158.42 L159.5,159.26 L158.5,160.11 L157.5,160.95 L156.5,161.78 L155.5,162.61 L154.5,163.42 L153.5,164.22 L152.5,165.01 L151.5,165.78 L150.5,166.53 L149.5,167.25 L148.5,167.93 L147.5,168.55 L146.5,169.14 L145.5,169.70 L144.5,170.24 L143.5,170.79 L142.5,171.35 L141.5,171.93 L140.5,172.53 L139.5,173.17 L138.5,173.82 L137.5,174.46 L136.5,175.10 L135.5,175.73 L134.5,176.33 L133.5,176.93 L132.5,177.53 L131.5,178.11 L130.5,178.69 L129.5,179.26 L128.5,179.82 L127.5,180.37 L126.5,180.91 L125.5,181.44 L124.5,181.95 L123.5,182.47 L122.5,182.97 L121.5,183.48 L120.5,183.98 L119.5,184.49 L118.5,184.98 L117.5,185.48 L116.5,185.98 L115.5,186.47 L114.5,186.97 L113.5,187.46 L112.5,187.94 L111.5,188.42 L110.5,188.89 L109.5,189.36 L108.5,189.82 L107.5,190.27 L106.5,190.71 L105.5,191.14 L104.5,191.55 L103.5,191.96 L102.5,192.36 L101.5,192.74 L100.5,193.11 L99.5,193.46 L98.5,193.80 L97.5,194.12 L96.5,194.43 L95.5,194.73 L94.5,195.01 L93.5,195.28 L92.5,195.54 L91.5,195.79 L90.5,196.02 L89.5,196.25 L88.5,196.48 L87.5,196.69 L86.5,196.90 L85.5,197.10 L84.5,197.30 L83.5,197.49 L82.5,197.69 L81.5,197.87 L80.5,198.06 L79.5,198.25 L78.5,198.44 L77.5,198.64 L76.5,198.84 L75.5,199.04 L74.5,199.23 L73.5,199.43 L72.5,199.62 L71.5,199.82 L70.5,200.01 L69.5,200.20 L68.5,200.39 L67.5,200.58 L66.5,200.76 L65.5,200.94 L64.5,201.13 L63.5,201.31 L62.5,201.49 L61.5,201.66 L60.5,201.84 L59.5,202.01 L58.5,202.18 L57.5,202.35 L56.5,202.52 L55.5,202.68 L54.5,202.84 L53.5,203.00 L52.5,203.16 L51.5,203.32 L50.5,203.47 L49.5,203.63 L48.5,203.78 L47.5,203.93 L46.5,204.07 L45.5,204.22 L44.5,204.36 L43.5,204.51 L42.5,204.65 L41.5,204.79 L40.5,204.93 L39.5,205.07 L38.5,205.20 Z" fill="#ff0000"/>
<path d="M38.5,203.30 L39.5,203.15 L40.5,202.99 L41.5,202.83 L42.5,202.67 L43.5,202.51 L44.5,202.35 L45.5,202.18 L46.5,202.01 L47.5,201.84 L48.5,201.67 L49.5,201.50 L50.5,201.32 L51.5,201.14 L52.5,200.97 L53.5,200.78 L54.5,200.60 L55.5,200.41 L56.5,200.23 L57.5,200.04 L58.5,199.84 L59.5,199.65 L60.5,199.45 L61.5,199.26 L62.5,199.05 L63.5,198.85 L64.5,198.65 L65.5,198.44 L66.5,198.23 L67.5,198.01 L68.5,197.80 L69.5,197.58 L70.5,197.36 L71.5,197.14 L72.5,196.91 L73.5,196.69 L74.5,196.46 L75.5,196.22 L76.5,195.99 L77.5,195.75 L78.5,195.51 L79.5,195.27 L80.5,195.02 L81.5,194.77 L82.5,194.51 L83.5,194.26 L84.5,194.00 L85.5,193.73 L86.5,193.46 L87.5,193.18 L88.5,192.90 L89.5,192.61 L90.5,192.32 L91.5,192.02 L92.5,191.71 L93.5,191.40 L94.5,191.08 L95.5,190.76 L96.5,190.42 L97.5,190.08 L98.5,189.73 L99.5,189.37 L100.5,189.00 L101.5,188.63 L102.5,188.24 L103.5,187.84 L104.5,187.44 L105.5,187.02 L106.5,186.60 L107.5,186.16 L108.5,185.72 L109.5,185.26 L110.5,184.79 L111.5,184.31 L112.5,183.81 L113.5,183.31 L114.5,182.79 L115.5,182.26 L116.5,181.72 L117.5,181.16 L118.5,180.60 L119.5,180.03 L120.5,179.45 L121.5,178.87 L122.5,178.29 L123.5,177.71 L124.5,177.12 L125.5,176.54 L126.5,175.97 L127.5,175.40 L128.5,174.83 L129.5,174.28 L130.5,173.73 L131.5,173.20 L132.5,172.66 L133.5,172.13 L134.5,171.59 L135.5,171.04 L136.5,170.48 L137.5,169.90 L138.5,169.31 L139.5,168.69 L140.5,168.07 L141.5,167.42 L142.5,166.75 L143.5,166.07 L144.5,165.36 L145.5,164.63 L146.5,163.88 L147.5,163.10 L148.5,162.30 L149.5,161.48 L150.5,160.62 L151.5,159.75 L152.5,158.84 L153.5,157.92 L154.5,156.98 L155.5,156.02 L156.5,155.04 L157.5,154.05 L158.5,153.05 L159.5,152.04 L160.5,151.03 L161.5,150.01 L162.5,148.98 L163.5,147.96 L164.5,146.94 L165.5,145.92 L166.5,144.91 L167.5,143.90 L168.5,142.90 L169.5,141.92 L170.5,140.95 L171.5,140.00 L172.5,139.05 L173.5,138.10 L174.5,137.16 L175.5,136.22 L176.5,135.26 L177.5,134.29 L178.5,133.31 L179.5,132.31 L180.5,131.28 L181.5,130.22 L182.5,129.14 L183.5,128.05 L184.5,126.93 L185.5,125.81 L186.5,124.67" fill="none" stroke="#ff8000" stroke-width="2.0"/>
<path d="M185.5,125.81 L186.5,124.67 L187.5,123.53 L188.5,122.39 L189.5,121.25 L190.5,120.11 L191.5,118.98 L192.5,117.85 L193.5,116.74 L194.5,115.63 L195.5,114.54 L196.5,113.46 L197.5,112.39 L198.5,111.34 L199.5,110.31 L200.5,109.30 L201.5,108.31 L202.5,107.34 L203.5,106.39 L204.5,105.47 L205.5,104.57 L206.5,103.70 L207.5,102.86 L208.5,102.06 L209.5,101.28 L210.5,100.53 L211.5,99.82 L212.5,99.15 L213.5,98.50 L214.5,97.90 L215.5,97.32 L216.5,96.78 L217.5,96.27 L218.5,95.79 L219.5,95.35 L220.5,94.94 L221.5,94.56 L222.5,94.21 L223.5,93.90 L224.5,93.62 L225.5,93.37 L226.5,93.15 L227.5,92.96 L228.5,92.81 L229.5,92.69 L230.5,92.59 L231.5,92.53 L232.5,92.50 L233.5,92.50 L234.5,92.52 L235.5,92.58 L236.5,92.65 L237.5,92.75 L238.5,92.87 L239.5,93.02 L240.5,93.18 L241.5,93.36 L242.5,93.56 L243.5,93.78 L244.5,94.01 L245.5,94.26 L246.5,94.52 L247.5,94.78 L248.5,95.06 L249.5,95.35 L250.5,95.65 L251.5,95.95 L252.5,96.26 L253.5,96.57 L254.5,96.88 L255.5,97.20 L256.5,97.52 L257.5,97.83 L258.5,98.15 L259.5,98.45 L260.5,98.76 L261.5,99.06" fill="none" stroke="#ff8000" stroke-width="1.6"/>
<path d="M260.5,98.76 L261.5,99.06 L262.5,99.35 L263.5,99.64 L264.5,99.93 L265.5,100.21 L266.5,100.48 L267.5,100.75 L268.5,101.01 L269.5,101.27 L270.5,101.52 L271.5,101.77 L272.5,102.02 L273.5,102.25 L274.5,102.49 L275.5,102.72 L276.5,102.94 L277.5,103.16 L278.5,103.37 L279.5,103.58 L280.5,103.79 L281.5,103.99 L282.5,104.18 L283.5,104.38 L284.5,104.56 L285.5,104.74 L286.5,104.92 L287.5,105.09 L288.5,105.26 L289.5,105.42 L290.5,105.58 L291.5,105.74 L292.5,105.89 L293.5,106.03 L294.5,106.18 L295.5,106.31 L296.5,106.45 L297.5,106.57 L298.5,106.70 L299.5,106.82 L300.5,106.94 L301.5,107.05 L302.5,107.15 L303.5,107.26 L304.5,107.36 L305.5,107.45 L306.5,107.55 L307.5,107.63 L308.5,107.72 L309.5,107.80 L310.5,107.87 L311.5,107.94 L312.5,108.01 L313.5,108.08 L314.5,108.14 L315.5,108.20 L316.5,108.25 L317.5,108.30 L318.5,108.35 L319.5,108.40 L320.5,108.44 L321.5,108.48 L322.5,108.52 L323.5,108.55 L324.5,108.59 L325.5,108.62 L326.5,108.64 L327.5,108.67 L328.5,108.70 L329.5,108.72 L330.5,108.74 L331.5,108.76 L332.5,108.78 L333.5,108.79 L334.5,108.81 L335.5,108.82 L336.5,108.83 L337.5,108.85 L338.5,108.86 L339.5,108.87 L340.5,108.88 L341.5,108.89 L342.5,108.90 L343.5,108.91 L344.5,108.92 L345.5,108.92 L346.5,108.93 L347.5,108.94 L348.5,108.95 L349.5,108.96 L350.5,108.97 L351.5,108.98 L352.5,109.00 L353.5,109.01 L354.5,109.02 L355.5,109.04 L356.5,109.05 L357.5,109.07 L358.5,109.09 L359.5,109.11 L360.5,109.13 L361.5,109.15 L362.5,109.18 L363.5,109.21 L364.5,109.24 L365.5,109.27 L366.5,109.30 L367.5,109.34 L368.5,109.38 L369.5,109.42 L370.5,109.47 L371.5,109.51 L372.5,109.57 L373.5,109.62 L374.5,109.68 L375.5,109.74 L376.5,109.80 L377.5,109.86 L378.5,109.93 L379.5,110.00 L380.5,110.06 L381.5,110.13 L382.5,110.19 L383.5,110.25 L384.5,110.31 L385.5,110.36 L386.5,110.40 L387.5,110.44 L388.5,110.47 L389.5,110.50 L390.5,110.51 L391.5,110.52 L392.5,110.51 L393.5,110.49 L394.5,110.46 L395.5,110.42 L396.5,110.36 L397.5,110.29 L399.4,110.10" fill="none" stroke="#ff8000" stroke-width="2.0"/>
<path d="M38.5,205.40 L39.5,205.27 L40.5,205.13 L41.5,204.99 L42.5,204.85 L43.5,204.71 L44.5,204.57 L45.5,204.42 L46.5,204.28 L47.5,204.13 L48.5,203.98 L49.5,203.83 L50.5,203.68 L51.5,203.53 L52.5,203.37 L53.5,203.22 L54.5,203.06 L55.5,202.90 L56.5,202.74 L57.5,202.57 L58.5,202.41 L59.5,202.24 L60.5,202.07 L61.5,201.89 L62.5,201.72 L63.5,201.54 L64.5,201.37 L65.5,201.19 L66.5,201.01 L67.5,200.82 L68.5,200.64 L69.5,200.46 L70.5,200.27 L71.5,200.08 L72.5,199.89 L73.5,199.70 L74.5,199.51 L75.5,199.32 L76.5,199.12 L77.5,198.93 L78.5,198.73 L79.5,198.54 L80.5,198.36 L81.5,198.19 L82.5,198.02 L83.5,197.85 L84.5,197.68 L85.5,197.51 L86.5,197.34 L87.5,197.16 L88.5,196.98 L89.5,196.80 L90.5,196.60 L91.5,196.40 L92.5,196.19 L93.5,195.96 L94.5,195.72 L95.5,195.47 L96.5,195.19 L97.5,194.90 L98.5,194.59 L99.5,194.26 L100.5,193.91 L101.5,193.54 L102.5,193.15 L103.5,192.75 L104.5,192.33 L105.5,191.90 L106.5,191.46 L107.5,191.00 L108.5,190.54 L109.5,190.06 L110.5,189.58 L111.5,189.09 L112.5,188.59 L113.5,188.09 L114.5,187.58 L115.5,187.07 L116.5,186.56 L117.5,186.05 L118.5,185.54 L119.5,185.02 L120.5,184.51 L121.5,184.00 L122.5,183.48 L123.5,182.97 L124.5,182.45 L125.5,181.94 L126.5,181.42 L127.5,180.90 L128.5,180.38 L129.5,179.86 L130.5,179.34 L131.5,178.82 L132.5,178.29 L133.5,177.75 L134.5,177.21 L135.5,176.66 L136.5,176.10 L137.5,175.55 L138.5,175.00 L139.5,174.45 L140.5,173.92 L141.5,173.42 L142.5,172.94 L143.5,172.47 L144.5,172.01 L145.5,171.53 L146.5,171.05 L147.5,170.53 L148.5,169.98 L149.5,169.38 L150.5,168.72 L151.5,168.04 L152.5,167.34 L153.5,166.61 L154.5,165.86 L155.5,165.10 L156.5,164.31 L157.5,163.51 L158.5,162.69 L159.5,161.86 L160.5,161.01 L161.5,160.18 L162.5,159.34 L163.5,158.51 L164.5,157.68 L165.5,156.84 L166.5,156.00 L167.5,155.14 L168.5,154.27 L169.5,153.39 L170.5,152.48 L171.5,151.57 L172.5,150.66 L173.5,149.75 L174.5,148.84 L175.5,147.92 L176.5,147.01 L177.5,146.09 L178.5,145.17 L179.5,144.25 L180.5,143.33 L181.5,142.41 L182.5,141.48 L183.5,140.56 L184.5,139.63 L185.5,138.69 L186.5,137.76 L187.5,136.82 L188.5,135.89 L189.5,134.95 L190.5,134.01 L191.5,133.09 L192.5,132.18 L193.5,131.29 L194.5,130.41 L195.5,129.56 L196.5,128.72 L197.5,127.89 L198.5,127.08 L199.5,126.29 L200.5,125.54 L201.5,124.89 L202.5,124.31 L203.5,123.73 L204.5,123.08 L205.5,122.33 L206.5,121.55 L207.5,120.78 L208.5,120.03 L209.5,119.33 L210.5,118.70 L211.5,118.15 L212.5,117.68 L213.5,117.26 L214.5,116.88 L215.5,116.54 L216.5,116.27 L217.5,116.04 L218.5,115.85 L219.5,115.65 L220.5,115.42 L221.5,115.20 L222.5,114.99 L223.5,114.80 L224.5,114.65 L225.5,114.54 L226.5,114.48 L227.5,114.46 L228.5,114.47 L229.5,114.49 L230.5,114.52 L231.5,114.57 L232.5,114.64 L233.5,114.73 L234.5,114.81 L235.5,114.88 L236.5,114.97 L237.5,115.06 L238.5,115.17 L239.5,115.29 L240.5,115.43 L241.5,115.58 L242.5,115.74 L243.5,115.93 L244.5,116.13 L245.5,116.34 L246.5,116.57 L247.5,116.81 L248.5,117.06 L249.5,117.31 L250.5,117.57 L251.5,117.83 L252.5,118.09 L253.5,118.36 L254.5,118.61 L255.5,118.87 L256.5,119.13 L257.5,119.39 L258.5,119.64 L259.5,119.90 L260.5,120.15 L261.5,120.40 L262.5,120.64 L263.5,120.88 L264.5,121.11 L265.5,121.34 L266.5,121.56 L267.5,121.78 L268.5,121.99 L269.5,122.20 L270.5,122.39 L271.5,122.56 L272.5,122.71 L273.5,122.84 L274.5,122.95 L275.5,123.06 L276.5,123.16 L277.5,123.26 L278.5,123.37 L279.5,123.49 L280.5,123.62 L281.5,123.76 L282.5,123.91 L283.5,124.06 L284.5,124.22 L285.5,124.39 L286.5,124.56 L287.5,124.73 L288.5,124.89 L289.5,125.04 L290.5,125.17 L291.5,125.28 L292.5,125.38 L293.5,125.46 L294.5,125.53 L295.5,125.59 L296.5,125.63 L297.5,125.67 L298.5,125.70 L299.5,125.72 L300.5,125.73 L301.5,125.74 L302.5,125.75 L303.5,125.75 L304.5,125.76 L305.5,125.76 L306.5,125.77 L307.5,125.78 L308.5,125.80 L309.5,125.82 L310.5,125.85 L311.5,125.88 L312.5,125.90 L313.5,125.92 L314.5,125.94 L315.5,125.96 L316.5,125.97 L317.5,125.98 L318.5,125.99 L319.5,125.99 L320.5,126.00 L321.5,126.00 L322.5,126.00 L323.5,126.00 L324.5,125.99 L325.5,125.98 L326.5,125.98 L327.5,125.97 L328.5,125.96 L329.5,125.94 L330.5,125.93 L331.5,125.92 L332.5,125.90 L333.5,125.88 L334.5,125.87 L335.5,125.85 L336.5,125.83 L337.5,125.81 L338.5,125.79 L339.5,125.77 L340.5,125.75 L341.5,125.73 L342.5,125.71 L343.5,125.69 L344.5,125.67 L345.5,125.65 L346.5,125.63 L347.5,125.61 L348.5,125.59 L349.5,125.58 L350.5,125.56 L351.5,125.54 L352.5,125.53 L353.5,125.51 L354.5,125.50 L355.5,125.49 L356.5,125.47 L357.5,125.47 L358.5,125.46 L359.5,125.45 L360.5,125.45 L361.5,125.44 L362.5,125.44 L363.5,125.44 L364.5,125.45 L365.5,125.45 L366.5,125.46 L367.5,125.47 L368.5,125.48 L369.5,125.50 L370.5,125.52 L371.5,125.54 L372.5,125.56 L373.5,125.59 L374.5,125.62 L375.5,125.66 L376.5,125.70 L377.5,125.74 L378.5,125.78 L379.5,125.82 L380.5,125.87 L381.5,125.91 L382.5,125.95 L383.5,125.98 L384.5,126.02 L385.5,126.05 L386.5,126.07 L387.5,126.09 L388.5,126.09 L389.5,126.10 L390.5,126.09 L391.5,126.07 L392.5,126.05 L393.5,126.01 L394.5,125.96 L395.5,125.89 L396.5,125.81 L397.5,125.72 L399.4,125.50" fill="none" stroke="#000" stroke-width="1.05"/>
<path d="M38.5,204.60 L39.5,204.46 L40.5,204.32 L41.5,204.18 L42.5,204.03 L43.5,203.89 L44.5,203.74 L45.5,203.59 L46.5,203.43 L47.5,203.28 L48.5,203.12 L49.5,202.96 L50.5,202.80 L51.5,202.63 L52.5,202.47 L53.5,202.30 L54.5,202.13 L55.5,201.96 L56.5,201.78 L57.5,201.61 L58.5,201.43 L59.5,201.24 L60.5,201.06 L61.5,200.87 L62.5,200.68 L63.5,200.49 L64.5,200.30 L65.5,200.10 L66.5,199.90 L67.5,199.70 L68.5,199.49 L69.5,199.29 L70.5,199.08 L71.5,198.87 L72.5,198.65 L73.5,198.43 L74.5,198.22 L75.5,197.99 L76.5,197.77 L77.5,197.54 L78.5,197.32 L79.5,197.08 L80.5,196.85 L81.5,196.61 L82.5,196.37 L83.5,196.13 L84.5,195.88 L85.5,195.63 L86.5,195.37 L87.5,195.11 L88.5,194.84 L89.5,194.57 L90.5,194.29 L91.5,194.00 L92.5,193.71 L93.5,193.41 L94.5,193.11 L95.5,192.79 L96.5,192.47 L97.5,192.14 L98.5,191.81 L99.5,191.46 L100.5,191.11 L101.5,190.75 L102.5,190.37 L103.5,189.99 L104.5,189.59 L105.5,189.19 L106.5,188.78 L107.5,188.35 L108.5,187.92 L109.5,187.47 L110.5,187.01 L111.5,186.55 L112.5,186.07 L113.5,185.58 L114.5,185.08 L115.5,184.57 L116.5,184.06 L117.5,183.54 L118.5,183.02 L119.5,182.50 L120.5,181.98 L121.5,181.45 L122.5,180.93 L123.5,180.40 L124.5,179.87 L125.5,179.33 L126.5,178.80 L127.5,178.26 L128.5,177.72 L129.5,177.18 L130.5,176.63 L131.5,176.07 L132.5,175.49 L133.5,174.89 L134.5,174.28 L135.5,173.65 L136.5,173.02 L137.5,172.38 L138.5,171.74 L139.5,171.10 L140.5,170.47 L141.5,169.85 L142.5,169.24 L143.5,168.62 L144.5,168.00 L145.5,167.36 L146.5,166.72 L147.5,166.05 L148.5,165.35 L149.5,164.63 L150.5,163.87 L151.5,163.09 L152.5,162.29 L153.5,161.48 L154.5,160.64 L155.5,159.80 L156.5,158.94 L157.5,158.06 L158.5,157.18 L159.5,156.29 L160.5,155.39 L161.5,154.50 L162.5,153.63 L163.5,152.77 L164.5,151.90 L165.5,151.04 L166.5,150.16 L167.5,149.27 L168.5,148.35 L169.5,147.42 L170.5,146.45 L171.5,145.45 L172.5,144.44 L173.5,143.41 L174.5,142.36 L175.5,141.31 L176.5,140.26 L177.5,139.20 L178.5,138.15 L179.5,137.11 L180.5,136.08 L181.5,135.05 L182.5,134.02 L183.5,132.99 L184.5,131.96 L185.5,130.93 L186.5,129.90 L187.5,128.87 L188.5,127.84 L189.5,126.80 L190.5,125.76 L191.5,124.73 L192.5,123.71 L193.5,122.70 L194.5,121.71 L195.5,120.74 L196.5,119.80 L197.5,118.88 L198.5,117.98 L199.5,117.12 L200.5,116.31 L201.5,115.62 L202.5,114.99 L203.5,114.37 L204.5,113.70 L205.5,112.92 L206.5,112.12 L207.5,111.33 L208.5,110.57 L209.5,109.84 L210.5,109.17 L211.5,108.55 L212.5,107.97 L213.5,107.43 L214.5,106.94 L215.5,106.49 L216.5,106.11 L217.5,105.78 L218.5,105.48 L219.5,105.19 L220.5,104.89 L221.5,104.60 L222.5,104.33 L223.5,104.09 L224.5,103.88 L225.5,103.71 L226.5,103.57 L227.5,103.46 L228.5,103.39 L229.5,103.33 L230.5,103.29 L231.5,103.26 L232.5,103.25 L233.5,103.27 L234.5,103.31 L235.5,103.39 L236.5,103.48 L237.5,103.60 L238.5,103.74 L239.5,103.90 L240.5,104.08 L241.5,104.28 L242.5,104.50 L243.5,104.74 L244.5,105.00 L245.5,105.27 L246.5,105.57 L247.5,105.90 L248.5,106.24 L249.5,106.59 L250.5,106.95 L251.5,107.31 L252.5,107.68 L253.5,108.03 L254.5,108.38 L255.5,108.71 L256.5,109.03 L257.5,109.36 L258.5,109.68 L259.5,110.00 L260.5,110.32 L261.5,110.63 L262.5,110.93 L263.5,111.22 L264.5,111.51 L265.5,111.80 L266.5,112.07 L267.5,112.35 L268.5,112.61 L269.5,112.87 L270.5,113.12 L271.5,113.35 L272.5,113.57 L273.5,113.76 L274.5,113.94 L275.5,114.11 L276.5,114.26 L277.5,114.41 L278.5,114.55 L279.5,114.69 L280.5,114.82 L281.5,114.96 L282.5,115.09 L283.5,115.23 L284.5,115.38 L285.5,115.53 L286.5,115.69 L287.5,115.84 L288.5,115.99 L289.5,116.14 L290.5,116.27 L291.5,116.39 L292.5,116.50 L293.5,116.59 L294.5,116.68 L295.5,116.76 L296.5,116.83 L297.5,116.89 L298.5,116.95 L299.5,117.00 L300.5,117.04 L301.5,117.08 L302.5,117.12 L303.5,117.15 L304.5,117.18 L305.5,117.21 L306.5,117.24 L307.5,117.26 L308.5,117.29 L309.5,117.32 L310.5,117.35 L311.5,117.38 L312.5,117.40 L313.5,117.42 L314.5,117.44 L315.5,117.46 L316.5,117.47 L317.5,117.48 L318.5,117.49 L319.5,117.49 L320.5,117.50 L321.5,117.50 L322.5,117.50 L323.5,117.50 L324.5,117.49 L325.5,117.48 L326.5,117.48 L327.5,117.47 L328.5,117.46 L329.5,117.44 L330.5,117.43 L331.5,117.42 L332.5,117.40 L333.5,117.38 L334.5,117.37 L335.5,117.35 L336.5,117.33 L337.5,117.31 L338.5,117.29 L339.5,117.27 L340.5,117.25 L341.5,117.23 L342.5,117.21 L343.5,117.19 L344.5,117.17 L345.5,117.15 L346.5,117.13 L347.5,117.11 L348.5,117.09 L349.5,117.08 L350.5,117.06 L351.5,117.04 L352.5,117.03 L353.5,117.01 L354.5,117.00 L355.5,116.99 L356.5,116.98 L357.5,116.97 L358.5,116.96 L359.5,116.96 L360.5,116.95 L361.5,116.95 L362.5,116.95 L363.5,116.95 L364.5,116.96 L365.5,116.96 L366.5,116.97 L367.5,116.99 L368.5,117.00 L369.5,117.02 L370.5,117.04 L371.5,117.06 L372.5,117.09 L373.5,117.12 L374.5,117.15 L375.5,117.19 L376.5,117.23 L377.5,117.28 L378.5,117.32 L379.5,117.37 L380.5,117.41 L381.5,117.46 L382.5,117.50 L383.5,117.54 L384.5,117.57 L385.5,117.60 L386.5,117.63 L387.5,117.65 L388.5,117.66 L389.5,117.67 L390.5,117.66 L391.5,117.65 L392.5,117.62 L393.5,117.59 L394.5,117.54 L395.5,117.48 L396.5,117.40 L397.5,117.31 L399.4,117.10" fill="none" stroke="#000" stroke-width="1.05"/>
</g>
<rect x="38.5" y="-0.1" width="360.9" height="223.4" fill="none" stroke="#000" stroke-width="0.95"/>
<path d="M38.50,223.3 v-4 M38.50,-0.1 v4 M61.06,223.3 v-2.3 M61.06,-0.1 v2.3 M83.61,223.3 v-2.3 M83.61,-0.1 v2.3 M106.17,223.3 v-2.3 M106.17,-0.1 v2.3 M128.72,223.3 v-4 M128.72,-0.1 v4 M151.28,223.3 v-2.3 M151.28,-0.1 v2.3 M173.84,223.3 v-2.3 M173.84,-0.1 v2.3 M196.39,223.3 v-2.3 M196.39,-0.1 v2.3 M218.95,223.3 v-4 M218.95,-0.1 v4 M241.51,223.3 v-2.3 M241.51,-0.1 v2.3 M264.06,223.3 v-2.3 M264.06,-0.1 v2.3 M286.62,223.3 v-2.3 M286.62,-0.1 v2.3 M309.17,223.3 v-4 M309.17,-0.1 v4 M331.73,223.3 v-2.3 M331.73,-0.1 v2.3 M354.29,223.3 v-2.3 M354.29,-0.1 v2.3 M376.84,223.3 v-2.3 M376.84,-0.1 v2.3 M399.40,223.3 v-4 M399.40,-0.1 v4 M38.5,223.30 h4 M399.4,223.30 h-4 M38.5,210.15 h2.3 M399.4,210.15 h-2.3 M38.5,197.00 h2.3 M399.4,197.00 h-2.3 M38.5,183.85 h2.3 M399.4,183.85 h-2.3 M38.5,170.70 h2.3 M399.4,170.70 h-2.3 M38.5,157.55 h4 M399.4,157.55 h-4 M38.5,144.40 h2.3 M399.4,144.40 h-2.3 M38.5,131.25 h2.3 M399.4,131.25 h-2.3 M38.5,118.10 h2.3 M399.4,118.10 h-2.3 M38.5,104.95 h2.3 M399.4,104.95 h-2.3 M38.5,91.80 h4 M399.4,91.80 h-4 M38.5,78.65 h2.3 M399.4,78.65 h-2.3 M38.5,65.50 h2.3 M399.4,65.50 h-2.3 M38.5,52.35 h2.3 M399.4,52.35 h-2.3 M38.5,39.20 h2.3 M399.4,39.20 h-2.3 M38.5,26.05 h4 M399.4,26.05 h-4 M38.5,12.90 h2.3 M399.4,12.90 h-2.3 M38.5,-0.25 h2.3 M399.4,-0.25 h-2.3" stroke="#000" stroke-width="0.8" fill="none"/>
<text transform="translate(38.50,236.3) scale(0.9,1)" text-anchor="middle" class="t">340</text>
<text transform="translate(128.72,236.3) scale(0.9,1)" text-anchor="middle" class="t">342</text>
<text transform="translate(218.95,236.3) scale(0.9,1)" text-anchor="middle" class="t">344</text>
<text transform="translate(309.17,236.3) scale(0.9,1)" text-anchor="middle" class="t">346</text>
<text transform="translate(399.40,236.3) scale(0.9,1)" text-anchor="middle" class="t">348</text>
<text transform="translate(35.8,227.10) scale(0.93,1)" text-anchor="end" class="t">0.0</text>
<text transform="translate(35.8,162.15) scale(0.93,1)" text-anchor="end" class="t">0.5</text>
<text transform="translate(35.8,96.40) scale(0.93,1)" text-anchor="end" class="t">1.0</text>
<text transform="translate(35.8,30.65) scale(0.93,1)" text-anchor="end" class="t">1.5</text>
<text transform="translate(10.8,130.0) rotate(-90) scale(1.27,1)" class="l" font-style="italic">σ</text>
<text transform="translate(10.8,120.4) rotate(-90) scale(1.04,1)" class="l">[pb]</text>
<path d="M188.2,254 L190,252.8 L193.7,260.6 L198.3,245.5 H207.7" fill="none" stroke="#000" stroke-width="0.8" stroke-linejoin="miter"/>
<path d="M190.1,253 L193.5,260.2" fill="none" stroke="#000" stroke-width="1.7"/>
<text transform="translate(200.1,259.5) scale(0.99,1)" class="l" font-style="italic">s</text>
<text transform="translate(213.2,259.5) scale(0.99,1)" class="l">[GeV]</text>
</svg>
</body></html>
